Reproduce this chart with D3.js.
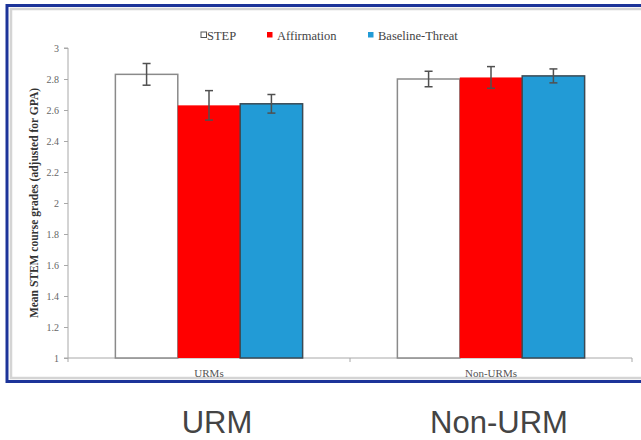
<!DOCTYPE html>
<html>
<head>
<meta charset="utf-8">
<script src="https://cdn.jsdelivr.net/npm/d3@7"></script>
<style>
  body { margin: 0; background: #fff; }
  svg { display: block; }
  .serif { font-family: "Liberation Serif", "Times New Roman", Times, "DejaVu Serif", serif; }
</style>
</head>
<body>
<div id="root"></div>
<script>
const width = 641;
const height = 440;

// data
const groups = ['URMs', 'Non-URMs'];
const bigLabels = ['URM', 'Non-URM'];
const series = ['STEP', 'Affirmation', 'Baseline-Threat'];
const colors = ['#ffffff', '#ff0000', '#229bd6'];
const urmValues = [2.83, 2.63, 2.64];
const urmErrors = [0.07, 0.095, 0.06];
const nonUrmValues = [2.80, 2.81, 2.82];
const nonUrmErrors = [0.05, 0.07, 0.045];
const yTicks = [1, 1.2, 1.4, 1.6, 1.8, 2, 2.2, 2.4, 2.6, 2.8, 3];

const rows = [
    {group: groups[0], values: urmValues, errors: urmErrors},
    {group: groups[1], values: nonUrmValues, errors: nonUrmErrors}
];

const plot = {left: 68, right: 632, top: 48, bottom: 358};
const serif = '"Liberation Serif", "Times New Roman", Times, "DejaVu Serif", serif';

const svg = d3.select('#root')
    .append('svg')
    .attr('width', width)
    .attr('height', height);

// frame around the slide picture
svg.append('rect')
    .attr('x', 11).attr('y', 9)
    .attr('width', 700).attr('height', 369)
    .attr('fill', '#fff')
    .attr('stroke', '#d4d4d4')
    .attr('stroke-width', 2.5);
svg.append('rect')
    .attr('x', 7).attr('y', 5.5)
    .attr('width', 700).attr('height', 376)
    .attr('fill', 'none')
    .attr('stroke', '#1c3499')
    .attr('stroke-width', 3);

const y = d3.scaleLinear()
    .domain([1, 3])
    .range([plot.bottom, plot.top]);

const x0 = d3.scaleBand()
    .domain(groups)
    .range([plot.left, plot.right])
    .paddingInner(0.336)
    .paddingOuter(0.168);

const x1 = d3.scaleBand()
    .domain(series)
    .range([0, x0.bandwidth()]);

const color = d3.scaleOrdinal(series, colors);

// y axis
const yAxis = svg.append('g')
    .attr('transform', `translate(${plot.left},0)`)
    .call(d3.axisLeft(y)
        .tickValues(yTicks)
        .tickSize(4)
        .tickPadding(5)
        .tickFormat(d3.format('~g')));
yAxis.attr('font-family', serif);
yAxis.selectAll('path, line').attr('stroke', '#a8a8a8');
yAxis.select('.domain').attr('d', `M-4,${plot.top}H0V${plot.bottom}H-4`);
yAxis.selectAll('text')
    .attr('class', 'serif')
    .attr('fill', '#666')
    .attr('font-size', 10);

// x axis line + boundary ticks
const bounds = [plot.left, (plot.left + plot.right) / 2, plot.right];
svg.append('line')
    .attr('x1', plot.left).attr('x2', plot.right)
    .attr('y1', plot.bottom).attr('y2', plot.bottom)
    .attr('stroke', '#a8a8a8');
svg.selectAll('.xtick')
    .data(bounds)
    .join('line')
    .attr('x1', d => d).attr('x2', d => d)
    .attr('y1', plot.bottom).attr('y2', plot.bottom + 4)
    .attr('stroke', '#a8a8a8');

// bars
const g = svg.selectAll('.grp')
    .data(rows)
    .join('g')
    .attr('transform', d => `translate(${x0(d.group)},0)`);

const bar = g.selectAll('.bar')
    .data(d => series.map((s, i) => ({s, v: d.values[i], e: d.errors[i]})))
    .join('g');

bar.append('rect')
    .attr('x', d => x1(d.s))
    .attr('y', d => y(d.v))
    .attr('width', x1.bandwidth())
    .attr('height', d => y(1) - y(d.v))
    .attr('fill', d => color(d.s))
    .attr('stroke', d => d.s === 'STEP' ? '#8a8a8a' : (d.s === 'Baseline-Threat' ? '#3a4a55' : 'none'))
    .attr('stroke-width', 1.5);

// error bars
const cx = d => x1(d.s) + x1.bandwidth() / 2;
bar.append('line')
    .attr('x1', cx).attr('x2', cx)
    .attr('y1', d => y(d.v + d.e)).attr('y2', d => y(d.v - d.e))
    .attr('stroke', '#505050').attr('stroke-width', 1.5);
bar.selectAll('.cap')
    .data(d => [d.v + d.e, d.v - d.e].map(t => ({...d, t})))
    .join('line')
    .attr('x1', d => cx(d) - 4).attr('x2', d => cx(d) + 4)
    .attr('y1', d => y(d.t)).attr('y2', d => y(d.t))
    .attr('stroke', '#505050').attr('stroke-width', 1.5);

// category labels
svg.selectAll('.cat')
    .data(groups)
    .join('text')
    .attr('class', 'serif')
    .attr('x', d => x0(d) + x0.bandwidth() / 2)
    .attr('y', 377)
    .attr('text-anchor', 'middle')
    .attr('fill', '#555')
    .attr('font-size', 11)
    .text(d => d);

// y axis title
svg.append('text')
    .attr('class', 'serif')
    .attr('transform', `translate(38,${(plot.top + plot.bottom) / 2}) rotate(-90)`)
    .attr('text-anchor', 'middle')
    .attr('fill', '#333')
    .attr('font-weight', 'bold')
    .attr('font-size', 11.5)
    .text('Mean STEM course grades (adjusted for GPA)');

// legend
const legendX = [201, 267, 368];
const leg = svg.selectAll('.leg')
    .data(series)
    .join('g')
    .attr('transform', (d, i) => `translate(${legendX[i]},32)`);
leg.append('rect')
    .attr('width', 5.5).attr('height', 5.5)
    .attr('fill', d => color(d))
    .attr('stroke', d => d === 'STEP' ? '#555' : 'none')
    .attr('stroke-width', 1);
leg.append('text')
    .attr('class', 'serif')
    .attr('x', d => d === 'STEP' ? 6 : 10)
    .attr('y', 7.5)
    .attr('fill', '#444')
    .attr('font-size', 12.5)
    .text(d => d);

// big labels under the slide
svg.selectAll('.big')
    .data(bigLabels)
    .join('text')
    .attr('x', (d, i) => x0(groups[i]) + x0.bandwidth() / 2 + 8)
    .attr('y', 433)
    .attr('text-anchor', 'middle')
    .attr('fill', '#444')
    .style('font-family', '"Liberation Sans", Arial, sans-serif')
    .style('font-size', '31px')
    .text(d => d);
</script>
</body>
</html>
